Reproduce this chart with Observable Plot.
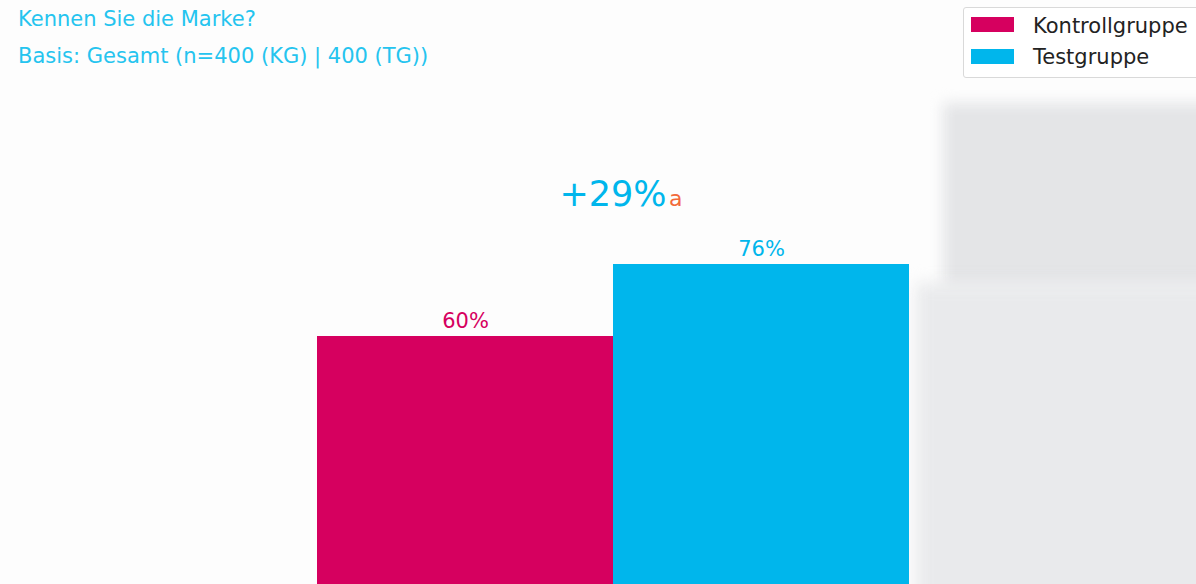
<!DOCTYPE html>
<html>
<head>
<meta charset="utf-8">
<script src="https://cdn.jsdelivr.net/npm/d3@7"></script>
<script src="https://cdn.jsdelivr.net/npm/@observablehq/plot@0.6"></script>
<style>
  html, body { margin: 0; padding: 0; width: 1196px; height: 584px; overflow: hidden; background: #fdfdfd; font-family: "DejaVu Sans", sans-serif; }
  #stage { position: relative; width: 1196px; height: 584px; overflow: hidden; }
  .bg1 { position: absolute; left: 943px; top: 103px; width: 300px; height: 186px; background: #e4e5e7; filter: blur(7px); }
  .bg2 { position: absolute; left: 916px; top: 283px; width: 320px; height: 340px; background: #e9eaec; filter: blur(8px); }
  .title { position: absolute; left: 18px; font-size: 21px; line-height: 21px; color: #25c4ef; white-space: nowrap; }
  #chart { position: absolute; left: 0; top: 0; }
  #legend { position: absolute; left: 963px; top: 7px; width: 240px; height: 69px; border: 1px solid #d9d9d9; border-radius: 3px; background: rgba(255,255,255,0.9); }
  .sw { position: absolute; left: 7px; width: 43px; height: 15px; }
  .lab { position: absolute; left: 69px; font-size: 21px; line-height: 21px; color: #222; white-space: nowrap; }
</style>
</head>
<body>
<div id="stage">
  <div class="bg1"></div>
  <div class="bg2"></div>
  <div id="chart"></div>
  <div class="title" id="t1" style="top:9px"></div>
  <div class="title" id="t2" style="top:46px"></div>
  <div id="legend"></div>
</div>
<script>
const titleText = "Kennen Sie die Marke?";
const subtitleText = "Basis: Gesamt (n=400 (KG) | 400 (TG))";
const groups = ["Kontrollgruppe", "Testgruppe"];
const values = [60, 76];
const colors = ["#d6005f", "#00b6ec"];
const liftLabel = "+29%";
const sigLetter = "a";

document.getElementById("t1").textContent = titleText;
document.getElementById("t2").textContent = subtitleText;

const data = groups.map((g, i) => ({group: g, value: values[i]}));
const peak = [{v: Math.max(...values)}];

const chart = Plot.plot({
  width: 1196,
  height: 606,
  marginTop: 156,
  marginBottom: 0,
  marginLeft: 316,
  marginRight: 287,
  style: {background: "transparent", fontFamily: "DejaVu Sans"},
  x: {domain: groups, padding: 0, axis: null},
  y: {domain: [0, 100], axis: null},
  color: {domain: groups, range: colors},
  marks: [
    Plot.barY(data, {x: "group", y: "value", fill: "group", inset: 0}),
    Plot.text(data, {x: "group", y: "value", text: d => d.value + "%", fill: "group", fontSize: 21, dy: -15}),
    Plot.text(peak, {y: "v", text: () => liftLabel, fill: colors[1], fontSize: 35, dy: -70}),
    Plot.text(peak, {y: "v", text: () => sigLetter, fill: "#f26a3a", fontSize: 22, textAnchor: "start", dx: 56, dy: -66})
  ]
});
document.getElementById("chart").appendChild(chart);

const legend = document.getElementById("legend");
groups.forEach((g, i) => {
  const sw = document.createElement("div");
  sw.className = "sw";
  sw.style.top = (9 + i * 32) + "px";
  sw.style.background = colors[i];
  legend.appendChild(sw);
  const lab = document.createElement("div");
  lab.className = "lab";
  lab.style.top = (8 + i * 31) + "px";
  lab.textContent = g;
  legend.appendChild(lab);
});
</script>
</body>
</html>
